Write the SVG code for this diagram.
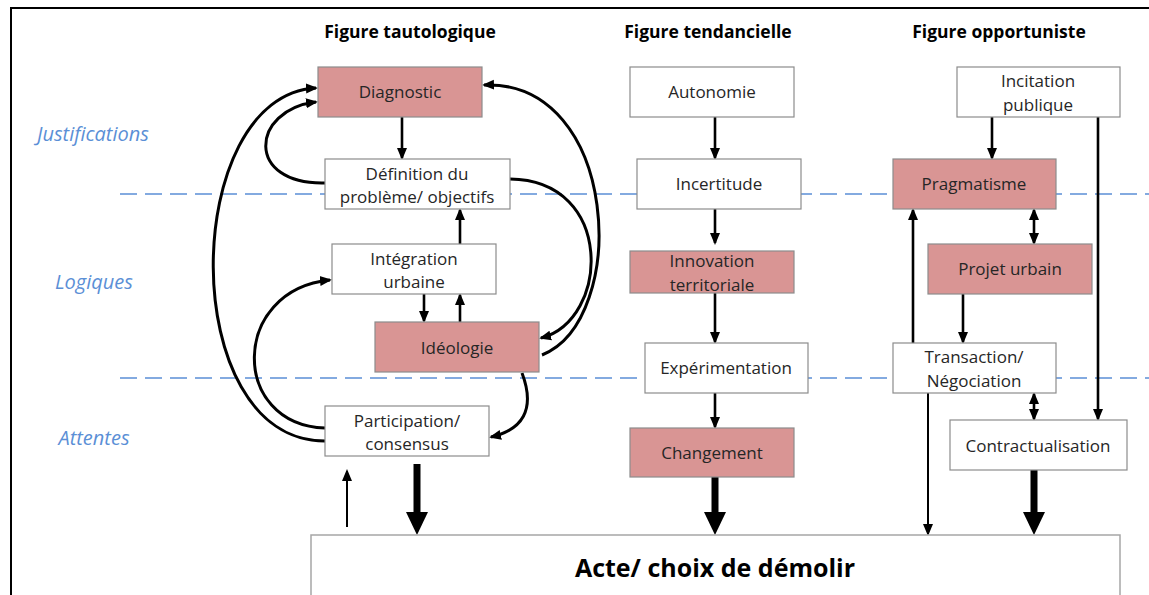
<svg xmlns="http://www.w3.org/2000/svg" width="1149" height="595" viewBox="0 0 1149 595">
<defs>
<style>
.box{fill:#ffffff;stroke:#8c8c8c;stroke-width:1.2}
.pink{fill:#d99594;stroke:#8c8c8c;stroke-width:1.2}
.t{font-family:"Open Sans","Noto Sans",sans-serif;font-size:17px;fill:#262626;text-anchor:middle}
.h{font-family:"Open Sans","Noto Sans",sans-serif;font-size:17.5px;font-weight:bold;fill:#000;text-anchor:middle}
.side{font-family:"Open Sans","Noto Sans",sans-serif;font-size:20px;font-style:italic;fill:#5b8fd6;text-anchor:middle}
.dash{stroke:#5b8fd6;stroke-width:1.6;stroke-dasharray:17 8;fill:none}
.c{fill:none;stroke:#000;stroke-width:3}
.a{fill:none;stroke:#000;stroke-width:2.6}
.thin{fill:none;stroke:#000;stroke-width:2}
.big{fill:none;stroke:#000;stroke-width:7}
</style>
<marker id="ah" markerUnits="userSpaceOnUse" markerWidth="12" markerHeight="12" viewBox="0 0 12 12" refX="10" refY="6" orient="auto-start-reverse"><path d="M0,1 L12,6 L0,11 z" fill="#000"/></marker>
<marker id="ahb" markerUnits="userSpaceOnUse" markerWidth="24" markerHeight="24" viewBox="0 0 24 24" refX="0" refY="12" orient="auto"><path d="M0,1 L23,12 L0,23 z" fill="#000"/></marker>
</defs>
<rect x="0" y="0" width="1149" height="595" fill="#ffffff"/>
<rect x="11" y="8" width="1160" height="620" fill="none" stroke="#000" stroke-width="2"/>

<g id="labels">
<text class="h" x="410" y="38">Figure tautologique</text>
<text class="h" x="708" y="38">Figure tendancielle</text>
<text class="h" x="999" y="38">Figure opportuniste</text>
<text class="side" x="93" y="141">Justifications</text>
<text class="side" x="94" y="289">Logiques</text>
<text class="side" x="94" y="445">Attentes</text>
</g>

<g id="separators">
<line class="dash" x1="120" y1="194" x2="1149" y2="194"/>
<line class="dash" x1="120" y1="378" x2="1149" y2="378"/>
</g>

<g id="connectors">
<line class="a" x1="402" y1="117" x2="402" y2="158" marker-end="url(#ah)"/>
<path class="c" d="M325,183 C245,185 250,110 316,102" marker-end="url(#ah)"/>
<path class="c" d="M325,441 C175,441 180,95 316,88" marker-end="url(#ah)"/>
<path class="c" d="M325,428 C230,425 230,290 330,280" marker-end="url(#ah)"/>
<line class="a" x1="424" y1="294" x2="424" y2="321" marker-end="url(#ah)"/>
<line class="a" x1="460" y1="322" x2="460" y2="295" marker-end="url(#ah)"/>
<line class="a" x1="460" y1="244" x2="460" y2="210" marker-end="url(#ah)"/>
<path class="c" d="M510,179 C615,180 610,320 541,338" marker-end="url(#ah)"/>
<path class="c" d="M542,355 C630,320 620,80 484,85" marker-end="url(#ah)"/>
<path class="c" d="M522,373 C536,410 522,430 491,437" marker-end="url(#ah)"/>
<line class="thin" x1="347" y1="527" x2="347" y2="471" marker-end="url(#ah)"/>
<line class="big" x1="417" y1="464" x2="417" y2="512" marker-end="url(#ahb)"/>
<line class="a" x1="715" y1="117" x2="715" y2="158" marker-end="url(#ah)"/>
<line class="a" x1="715" y1="209" x2="715" y2="243" marker-end="url(#ah)"/>
<line class="a" x1="715" y1="293" x2="715" y2="342" marker-end="url(#ah)"/>
<line class="a" x1="715" y1="393" x2="715" y2="427" marker-end="url(#ah)"/>
<line class="big" x1="715" y1="477" x2="715" y2="512" marker-end="url(#ahb)"/>
<line class="a" x1="992" y1="117" x2="992" y2="158" marker-end="url(#ah)"/>
<line class="a" x1="1098" y1="117" x2="1098" y2="419" marker-end="url(#ah)"/>
<line class="a" x1="1034" y1="210" x2="1034" y2="243" marker-start="url(#ah)" marker-end="url(#ah)"/>
<line class="a" x1="963" y1="294" x2="963" y2="342" marker-end="url(#ah)"/>
<line class="a" x1="913" y1="343" x2="913" y2="210" marker-end="url(#ah)"/>
<line class="a" x1="1034" y1="394" x2="1034" y2="419" marker-start="url(#ah)" marker-end="url(#ah)"/>
<line class="thin" x1="928" y1="393" x2="928" y2="534" marker-end="url(#ah)"/>
<line class="big" x1="1034" y1="470" x2="1034" y2="512" marker-end="url(#ahb)"/>
</g>

<g id="n-diagnostic"><rect class="pink" x="318" y="67" width="164" height="50"/><text class="t" x="400" y="98">Diagnostic</text></g>
<g id="n-definition"><rect class="box" x="325" y="159" width="185" height="50"/><text class="t" x="417" y="180">Définition du</text><text class="t" x="417" y="203">problème/ objectifs</text></g>
<g id="n-integration"><rect class="box" x="332" y="244" width="164" height="50"/><text class="t" x="414" y="265">Intégration</text><text class="t" x="414" y="288">urbaine</text></g>
<g id="n-ideologie"><rect class="pink" x="375" y="322" width="164" height="50"/><text class="t" x="457" y="354">Idéologie</text></g>
<g id="n-participation"><rect class="box" x="325" y="406" width="164" height="50"/><text class="t" x="407" y="427">Participation/</text><text class="t" x="407" y="450">consensus</text></g>

<g id="n-autonomie"><rect class="box" x="630" y="67" width="164" height="50"/><text class="t" x="712" y="98">Autonomie</text></g>
<g id="n-incertitude"><rect class="box" x="637" y="159" width="164" height="50"/><text class="t" x="719" y="190">Incertitude</text></g>
<g id="n-innovation"><rect class="pink" x="630" y="251" width="164" height="42"/><text class="t" x="712" y="267">Innovation</text><text class="t" x="712" y="291">territoriale</text></g>
<g id="n-experimentation"><rect class="box" x="645" y="343" width="163" height="50"/><text class="t" x="726" y="374">Expérimentation</text></g>
<g id="n-changement"><rect class="pink" x="630" y="428" width="164" height="49"/><text class="t" x="712" y="459">Changement</text></g>

<g id="n-incitation"><rect class="box" x="957" y="67" width="163" height="50"/><text class="t" x="1038" y="87">Incitation</text><text class="t" x="1038" y="111">publique</text></g>
<g id="n-pragmatisme"><rect class="pink" x="893" y="159" width="163" height="50"/><text class="t" x="974" y="190">Pragmatisme</text></g>
<g id="n-projet"><rect class="pink" x="928" y="244" width="164" height="50"/><text class="t" x="1010" y="275">Projet urbain</text></g>
<g id="n-transaction"><rect class="box" x="893" y="343" width="163" height="50"/><text class="t" x="974" y="363">Transaction/</text><text class="t" x="974" y="387">Négociation</text></g>
<g id="n-contract"><rect class="box" x="950" y="420" width="177" height="50"/><text class="t" x="1038" y="452">Contractualisation</text></g>

<g id="n-acte"><rect x="311" y="535" width="809" height="80" fill="#ffffff" stroke="#a6a6a6" stroke-width="1.5"/><text x="715" y="577" font-family="'Open Sans','Noto Sans',sans-serif" font-size="25" font-weight="bold" fill="#000" text-anchor="middle">Acte/ choix de démolir</text></g>
</svg>
